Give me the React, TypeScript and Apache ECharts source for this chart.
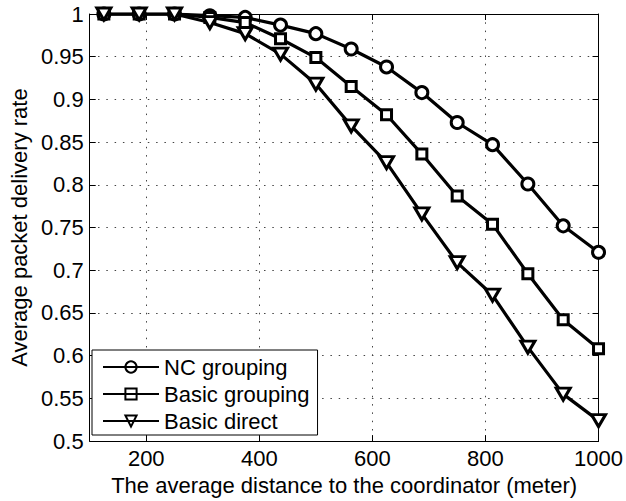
import React, { useEffect, useRef } from "react";
import * as echarts from "echarts";

const distances = [125, 187.5, 250, 312.5, 375, 437.5, 500, 562.5, 625, 687.5, 750, 812.5, 875, 937.5, 1000];
const ncGrouping = [1, 1, 1, 0.998, 0.996, 0.987, 0.977, 0.959, 0.938, 0.908, 0.873, 0.847, 0.801, 0.752, 0.721];
const basicGrouping = [1, 1, 1, 0.996, 0.99, 0.971, 0.949, 0.915, 0.882, 0.836, 0.787, 0.754, 0.696, 0.642, 0.608];
const basicDirect = [1, 1, 1, 0.99, 0.977, 0.953, 0.918, 0.869, 0.826, 0.766, 0.709, 0.671, 0.61, 0.555, 0.524];
const xTickValues = [200, 400, 600, 800, 1000];
const seriesNames = ["NC grouping", "Basic grouping", "Basic direct"];

const FONT = "'Liberation Sans', Arial, Helvetica, sans-serif";
const FS = 22;

export default function App() {
  const ref = useRef<HTMLDivElement>(null);
  useEffect(() => {
    if (!ref.current) return;
    const chart = echarts.init(ref.current, null, { renderer: "svg" });
    const pairs = (ys: number[]) => distances.map((x, i) => [x, ys[i]]);
    const gridLine = { show: true, lineStyle: { color: "#444", width: 1, type: [1.5, 6.8] as any } };
    const mkSeries = (name: string, ys: number[], symbol: string, size: any, rotate = 0) => ({
      name,
      type: "line",
      data: pairs(ys),
      symbol,
      symbolSize: size,
      symbolRotate: rotate,
      showSymbol: true,
      lineStyle: { color: "#000", width: 3.2 },
      itemStyle: { color: "#fff", borderColor: "#000", borderWidth: 3 },
      emphasis: { disabled: true },
      z: 3,
    });
    chart.setOption({
      animation: false,
      backgroundColor: "#fff",
      textStyle: { fontFamily: FONT },
      grid: { left: 85, right: 25, top: 14, bottom: 56 },
      legend: {
        orient: "vertical",
        left: 92,
        top: 350,
        padding: [6, 8, 3, 10],
        itemGap: 5,
        itemWidth: 56,
        itemHeight: 14,
        borderColor: "#000",
        borderWidth: 1,
        backgroundColor: "#fff",
        itemStyle: { color: "rgba(0,0,0,0)" },
        textStyle: { fontSize: FS, color: "#000", fontFamily: FONT },
        data: seriesNames,
      },
      xAxis: [
        {
          type: "value",
          min: 100,
          max: 1000,
          position: "bottom",
          axisLine: { show: true, onZero: false, lineStyle: { color: "#000", width: 1 } },
          axisTick: { show: true, inside: true, length: 6, customValues: xTickValues, lineStyle: { color: "#000" } },
          axisLabel: {
            customValues: xTickValues,
            color: "#000",
            fontSize: FS,
            fontFamily: FONT,
            margin: 6,
            formatter: (v: number) => String(v),
          },
          splitLine: gridLine,
          name: "The average distance to the coordinator (meter)",
          nameLocation: "middle",
          nameGap: 29,
          nameTextStyle: { fontSize: FS, color: "#000", fontFamily: FONT },
        },
        {
          type: "value",
          min: 100,
          max: 1000,
          position: "top",
          axisLine: { show: true, onZero: false, lineStyle: { color: "#000", width: 1 } },
          axisTick: { show: true, inside: true, length: 6, customValues: xTickValues, lineStyle: { color: "#000" } },
          axisLabel: { show: false },
          splitLine: { show: false },
        },
      ],
      yAxis: [
        {
          type: "value",
          min: 0.5,
          max: 1,
          interval: 0.05,
          position: "left",
          axisLine: { show: true, onZero: false, lineStyle: { color: "#000", width: 1 } },
          axisTick: { show: true, inside: true, length: 6, lineStyle: { color: "#000" } },
          axisLabel: {
            color: "#000",
            fontSize: FS,
            fontFamily: FONT,
            margin: 6,
            formatter: (v: number) => String(+v.toFixed(2)),
          },
          splitLine: gridLine,
          name: "Average packet delivery rate",
          nameLocation: "middle",
          nameGap: 55,
          nameTextStyle: { fontSize: FS, color: "#000", fontFamily: FONT },
        },
        {
          type: "value",
          min: 0.5,
          max: 1,
          interval: 0.05,
          position: "right",
          axisLine: { show: true, onZero: false, lineStyle: { color: "#000", width: 1 } },
          axisTick: { show: true, inside: true, length: 6, lineStyle: { color: "#000" } },
          axisLabel: { show: false },
          splitLine: { show: false },
        },
      ],
      series: [
        mkSeries(seriesNames[0], ncGrouping, "circle", 12),
        mkSeries(seriesNames[1], basicGrouping, "rect", 10),
        mkSeries(seriesNames[2], basicDirect, "triangle", [14, 12], 180),
      ],
    });
    return () => chart.dispose();
  }, []);
  return (
    <div
      ref={ref}
      style={{ position: "fixed", left: 0, top: 0, width: 626, height: 501 }}
    />
  );
}
